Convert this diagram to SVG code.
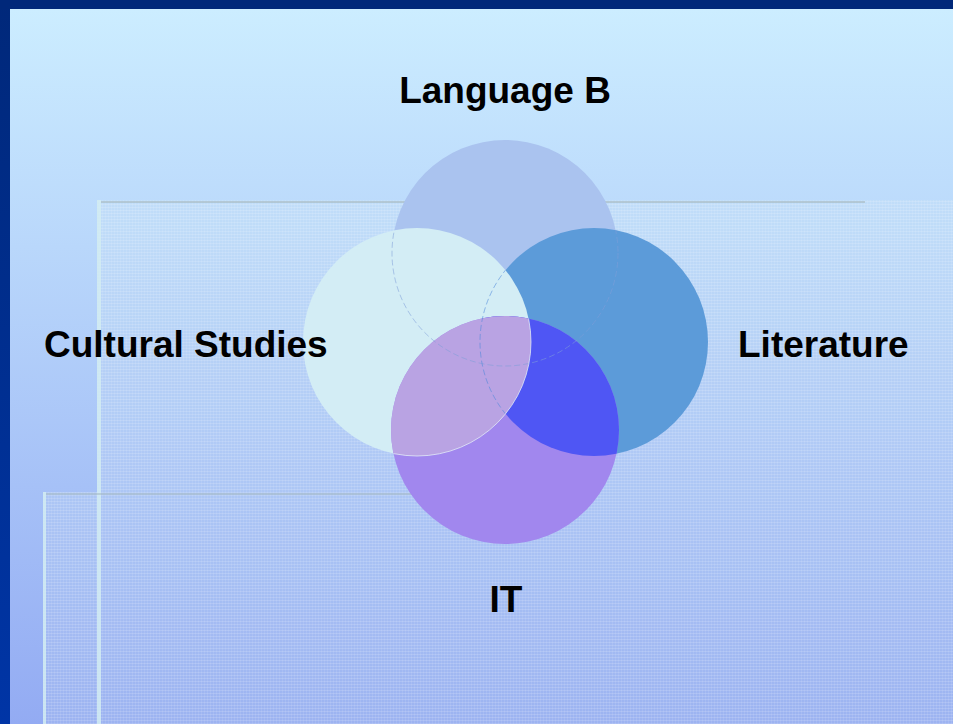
<svg xmlns="http://www.w3.org/2000/svg" width="953" height="724" viewBox="0 0 953 724">
  <defs>
    <linearGradient id="bg" x1="0" y1="9" x2="0" y2="724" gradientUnits="userSpaceOnUse">
      <stop offset="0" stop-color="#CCEDFF"/>
      <stop offset="1" stop-color="#93ABF3"/>
    </linearGradient>
    <linearGradient id="band" x1="0" y1="0" x2="0" y2="724" gradientUnits="userSpaceOnUse">
      <stop offset="0" stop-color="#00287A"/>
      <stop offset="1" stop-color="#0035A6"/>
    </linearGradient>
    <pattern id="grid" width="3" height="3" patternUnits="userSpaceOnUse">
      <rect width="3" height="1" fill="#FFFFFF" opacity="0.14"/>
      <rect width="1" height="3" fill="#FFFFFF" opacity="0.09"/>
    </pattern>
    <clipPath id="clipIT">
      <circle cx="505" cy="430" r="114"/>
    </clipPath>
    <clipPath id="clipC">
      <circle cx="417" cy="342" r="114"/>
    </clipPath>
    <clipPath id="clipCR">
      <circle cx="417" cy="342" r="114"/>
      <circle cx="594" cy="342" r="114"/>
    </clipPath>
    <style>
      .label { font-family: "Liberation Sans", Arial, sans-serif; font-weight: bold; font-size: 37px; fill: #000000; }
      .panel { fill: #E0F0E8; opacity: 0.13; }
      .tex { fill: url(#grid); }
      .edgeV { fill: #D2ECF2; }
      .edgeH { fill: #A9BDC6; }
      .outline { fill: none; stroke-width: 1; }
    </style>
  </defs>

  <g id="background">
    <rect x="0" y="0" width="953" height="724" fill="url(#band)"/>
    <rect x="0" y="0" width="953" height="9" fill="#00287A"/>
    <rect x="10" y="9" width="943" height="715" fill="url(#bg)"/>
  </g>

  <g id="panels">
    <rect class="panel" x="97" y="200" width="856" height="524"/>
    <rect class="tex" x="97" y="200" width="856" height="524"/>
    <rect class="panel" x="43" y="492" width="54" height="232"/>
    <rect class="tex" x="43" y="492" width="54" height="232"/>
    <rect class="edgeV" x="97" y="200" width="4" height="524" opacity="0.85"/>
    <rect class="edgeH" x="101" y="201" width="764" height="2" opacity="0.7"/>
    <rect class="edgeV" x="43" y="492" width="3" height="232" opacity="0.85"/>
    <rect class="edgeH" x="46" y="493" width="477" height="2" opacity="0.6"/>
  </g>

  <g id="connectors"></g>

  <g id="node-language-b">
    <circle cx="505" cy="253" r="113" fill="#AAC3EF"/>
    <text class="label" x="505" y="103" text-anchor="middle">Language B</text>
  </g>

  <g id="node-literature">
    <circle cx="594" cy="342" r="114" fill="#5C9BD9"/>
    <text class="label" x="738" y="357">Literature</text>
  </g>

  <g id="node-cultural-studies">
    <circle cx="417" cy="342" r="114" fill="#D3EDF5"/>
    <text class="label" x="44" y="357">Cultural Studies</text>
  </g>

  <g id="node-it">
    <circle cx="505" cy="430" r="114" fill="#A187EE"/>
    <g clip-path="url(#clipIT)">
      <circle cx="594" cy="342" r="114" fill="#4F56F4"/>
      <circle cx="417" cy="342" r="114" fill="#B9A3E3"/>
    </g>
    <text class="label" x="506" y="612" text-anchor="middle">IT</text>
  </g>

  <g id="outlines">
    <circle class="outline" cx="505" cy="253" r="113" stroke="#7F9ED8" opacity="0.55" stroke-dasharray="6 3" clip-path="url(#clipCR)"/>
    <circle class="outline" cx="594" cy="342" r="114" stroke="#4C86DA" opacity="0.55" stroke-dasharray="6 3" clip-path="url(#clipC)"/>
    <circle class="outline" cx="417" cy="342" r="114" stroke="#EAF6FA" opacity="0.7" clip-path="url(#clipIT)"/>
  </g>
</svg>
